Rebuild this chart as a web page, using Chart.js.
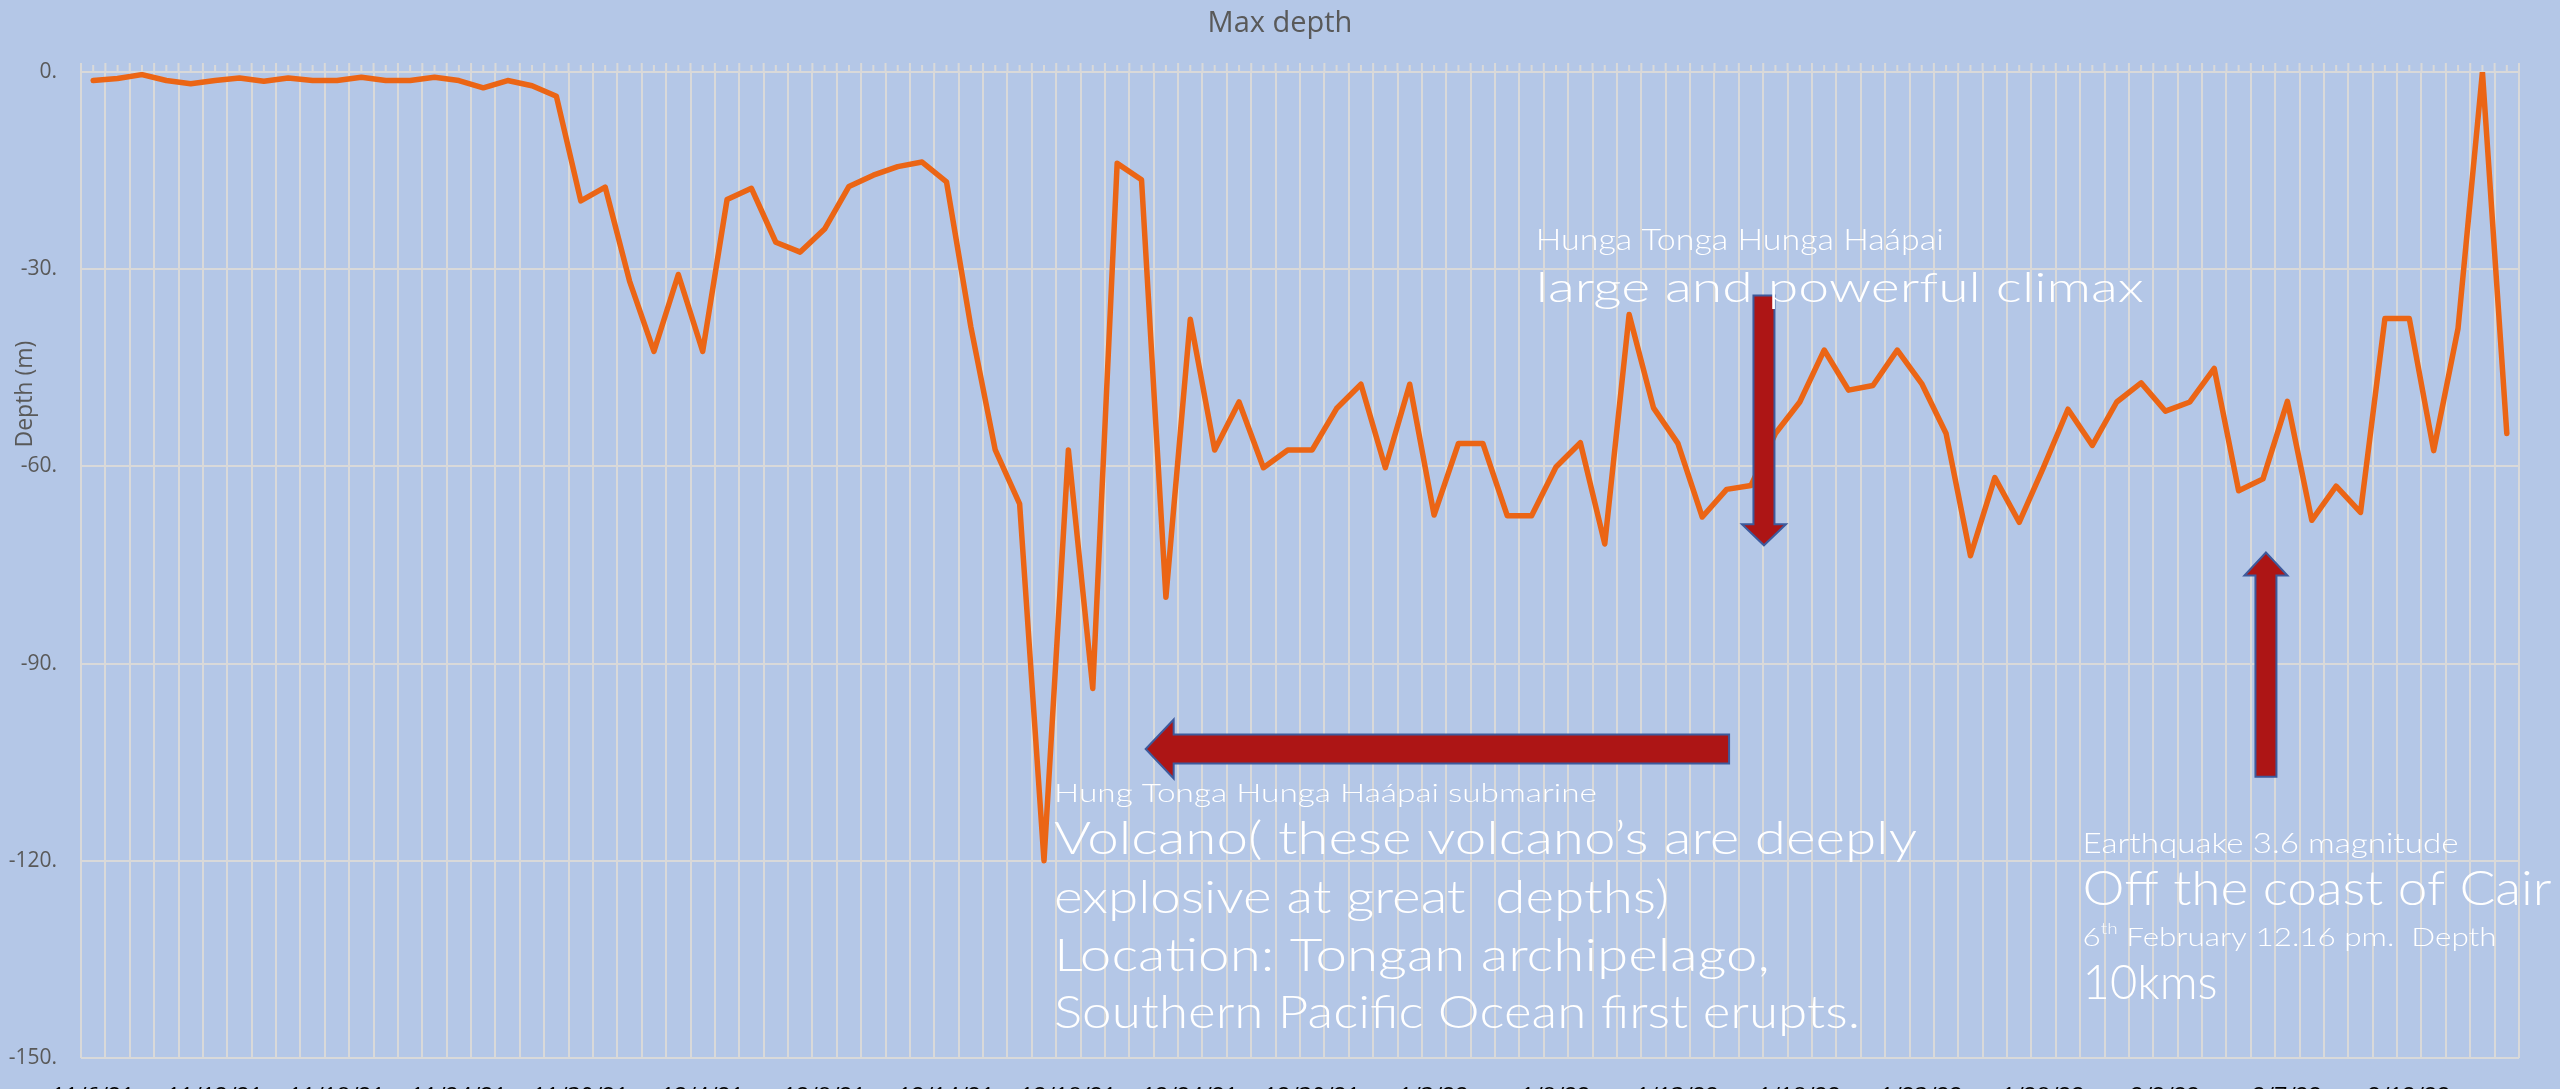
<!DOCTYPE html>
<html>
<head>
<meta charset="utf-8">
<title>Max depth</title>
<script src="https://cdn.jsdelivr.net/npm/chart.js@4.4.1/dist/chart.umd.min.js"></script>
<style>
  html, body { margin: 0; padding: 0; width: 2560px; height: 1089px; overflow: hidden; background: #b4c7e7; }
  #wrap { position: relative; width: 2560px; height: 1120px; }
</style>
</head>
<body>
<div id="wrap"><canvas id="chart"></canvas></div>
<script>
// one label every 5th reading, the rest of the categories stay unlabeled
const tickLabels = [
  "11/6/21", "11/12/21", "11/18/21", "11/24/21", "11/30/21",
  "12/4/21", "12/8/21", "12/14/21", "12/18/21", "12/24/21",
  "12/30/21", "1/3/22", "1/8/22", "1/13/22", "1/18/22",
  "1/23/22", "1/28/22", "2/2/22", "2/7/22", "2/12/22"
];

// max depth per reading (m)
const depth = [
  -1.3, -1.0, -0.4, -1.3, -1.8, -1.3, -0.9, -1.4, -0.9, -1.3,
  -1.3, -0.8, -1.3, -1.3, -0.8, -1.3, -2.4, -1.3, -2.1, -3.7,
  -19.6, -17.5, -31.8, -42.5, -30.8, -42.5, -19.4, -17.7, -25.9, -27.4,
  -23.9, -17.4, -15.7, -14.4, -13.7, -16.7, -38.8, -57.5, -65.7, -120,
  -57.5, -93.8, -13.9, -16.4, -79.9, -37.6, -57.5, -50.2, -60.2, -57.5,
  -57.5, -51.2, -47.5, -60.2, -47.5, -67.4, -56.5, -56.5, -67.5, -67.5,
  -60.1, -56.4, -71.8, -36.9, -51.1, -56.5, -67.7, -63.5, -62.9, -55.0,
  -50.2, -42.3, -48.4, -47.7, -42.3, -47.4, -55.0, -73.6, -61.7, -68.5,
  -60.1, -51.3, -56.8, -50.2, -47.3, -51.6, -50.2, -45.1, -63.7, -61.9,
  -50.1, -68.2, -63.0, -67.0, -37.5, -37.5, -57.6, -39.0, 0, -55.0
];

const yTicks = [0, -30, -60, -90, -120, -150];

// arrows: ends in [category index, depth], widths in px
const arrows = [
  { from: [67.1, -103], to: [43.17, -103], shaft: 29, head: 59, headLen: 28 },
  { from: [68.53, -34.0], to: [68.53, -72.0], shaft: 21, head: 44, headLen: 21 },
  { from: [89.12, -107.2], to: [89.12, -73.1], shaft: 21, head: 43, headLen: 23 }
];

// callouts: left/baseline anchor in [category index, depth], font px, target width px
const notes = [
  { at: [59.17, -27.1], size: 30, width: 408, parts: [["Hunga Tonga Hunga Haápai"]] },
  { at: [59.17, -35.0], size: 42, width: 608, parts: [["large and powerful climax"]] },
  { at: [39.41, -111.0], size: 26, width: 543, parts: [["Hung Tonga Hunga Haápai submarine"]] },
  { at: [39.41, -118.9], size: 46, width: 863, parts: [["Volcano( these volcano’s are deeply"]] },
  { at: [39.41, -127.9], size: 46, width: 615, parts: [["explosive at great  depths)"]] },
  { at: [39.41, -136.7], size: 46, width: 716, parts: [["Location: Tongan archipelago,"]] },
  { at: [39.41, -145.4], size: 46, width: 806, parts: [["Southern Pacific Ocean first erupts."]] },
  { at: [81.6, -118.8], size: 28, width: 376, parts: [["Earthquake 3.6 magnitude"]] },
  { at: [81.6, -126.8], size: 48, width: 469, parts: [["Off the coast of Cair"]] },
  { at: [81.6, -132.9], size: 25, width: 414, parts: [["6"], ["th", 0.6, -0.45], [" February 12.16 pm.  Depth"]] },
  { at: [81.6, -141.0], size: 48, width: 135, parts: [["10kms"]] }
];

function noteFont(size) {
  return `300 ${size}px Lato`;
}

function drawArrow(ctx, x, y, a) {
  const x0 = x.getPixelForValue(a.from[0]), y0 = y.getPixelForValue(a.from[1]);
  const x1 = x.getPixelForValue(a.to[0]), y1 = y.getPixelForValue(a.to[1]);
  const len = Math.hypot(x1 - x0, y1 - y0);
  const ang = Math.atan2(y1 - y0, x1 - x0);
  const s = a.shaft / 2, h = a.head / 2, b = len - a.headLen;
  ctx.save();
  ctx.translate(x0, y0);
  ctx.rotate(ang);
  ctx.beginPath();
  ctx.moveTo(0, -s);
  ctx.lineTo(b, -s);
  ctx.lineTo(b, -h);
  ctx.lineTo(len, 0);
  ctx.lineTo(b, h);
  ctx.lineTo(b, s);
  ctx.lineTo(0, s);
  ctx.closePath();
  ctx.fillStyle = "#ad1515";
  ctx.fill();
  ctx.lineWidth = 2;
  ctx.strokeStyle = "#3d5a9c";
  ctx.stroke();
  ctx.restore();
}

function drawNote(ctx, x, y, n) {
  const px = x.getPixelForValue(n.at[0]), py = y.getPixelForValue(n.at[1]);
  let natural = 0;
  n.parts.forEach((p) => {
    ctx.font = noteFont(n.size * (p[1] || 1));
    natural += ctx.measureText(p[0]).width;
  });
  ctx.save();
  ctx.translate(px, py);
  ctx.scale(n.width / natural, 1);
  ctx.fillStyle = "#ffffff";
  ctx.textBaseline = "alphabetic";
  ctx.textAlign = "left";
  let cx = 0;
  n.parts.forEach((p) => {
    ctx.font = noteFont(n.size * (p[1] || 1));
    ctx.fillText(p[0], cx, (p[2] || 0) * n.size);
    cx += ctx.measureText(p[0]).width;
  });
  ctx.restore();
}

const decor = {
  id: "decor",
  afterDraw(chart) {
    const { ctx, chartArea, scales } = chart;
    const x = scales.x, y = scales.y;

    // little tick marks above the 0 line
    ctx.save();
    ctx.strokeStyle = "#d9d9d9";
    ctx.lineWidth = 2;
    ctx.beginPath();
    for (let i = 0; i <= depth.length; i++) {
      const bx = x.getPixelForValue(i - 0.5);
      ctx.moveTo(bx, chartArea.top - 9);
      ctx.lineTo(bx, chartArea.top);
      if (i < depth.length) {
        const cx = x.getPixelForValue(i);
        ctx.moveTo(cx, chartArea.top - 7);
        ctx.lineTo(cx, chartArea.top);
      }
    }
    ctx.stroke();
    ctx.restore();

    arrows.forEach((a) => drawArrow(ctx, x, y, a));

    // axis title
    ctx.save();
    ctx.translate(25, y.getPixelForValue(-49));
    ctx.rotate(-Math.PI / 2);
    ctx.font = "23px 'Open Sans'";
    ctx.fillStyle = "#595959";
    ctx.textAlign = "center";
    ctx.textBaseline = "middle";
    ctx.fillText("Depth (m)", 0, 0);
    ctx.restore();

    ctx.save();
    ctx.beginPath();
    ctx.rect(0, 0, chartArea.right + 34, chart.height);
    ctx.clip();
    notes.forEach((n) => drawNote(ctx, x, y, n));
    ctx.restore();
  }
};

const labels = depth.map((_, i) => (i % 5 === 0 ? tickLabels[i / 5] : ""));

new Chart(document.getElementById("chart"), {
  type: "line",
  data: {
    labels,
    datasets: [
      {
        label: "Max depth",
        data: depth,
        borderColor: "#eb6515",
        borderWidth: 5.5,
        pointRadius: 0,
        tension: 0,
        borderJoinStyle: "round",
        borderCapStyle: "round",
        fill: false
      }
    ]
  },
  options: {
    responsive: true,
    maintainAspectRatio: false,
    animation: false,
    devicePixelRatio: 1,
    layout: { padding: { left: 0, right: 0, top: 0, bottom: 2 } },
    plugins: {
      legend: { display: false },
      tooltip: { enabled: false },
      title: {
        display: true,
        text: "Max depth",
        color: "#595959",
        font: { family: "'Open Sans'", size: 29, weight: "normal", lineHeight: 1.2 },
        padding: { top: 6, bottom: 31.2 }
      }
    },
    scales: {
      x: {
        type: "category",
        offset: true,
        grid: { offset: true, color: "#d9d9d9", lineWidth: 2, drawTicks: false },
        border: { display: false },
        ticks: {
          autoSkip: false,
          maxRotation: 0,
          minRotation: 0,
          padding: 26,
          color: "#000000",
          font: { family: "'Open Sans'", size: 23 },
          callback: (v, i) => labels[i]
        },
        afterFit: (s) => { s.height = 60; }
      },
      y: {
        min: -150,
        max: 0,
        afterBuildTicks: (s) => { s.ticks = yTicks.map((v) => ({ value: v })); },
        grid: { color: "#d9d9d9", lineWidth: 2, drawTicks: false },
        border: { display: false },
        ticks: {
          padding: 24,
          color: "#595959",
          font: { family: "'Open Sans'", size: 21 },
          callback: (v) => `${v}.`
        },
        afterFit: (s) => { s.width = 81; }
      },
      // empty right-hand strip so the title sits on the page centre
      yRight: {
        position: "right",
        min: -150,
        max: 0,
        grid: { display: false },
        border: { display: false },
        ticks: { display: false },
        afterFit: (s) => { s.width = 41; }
      }
    }
  },
  plugins: [decor]
});
</script>
</body>
</html>
